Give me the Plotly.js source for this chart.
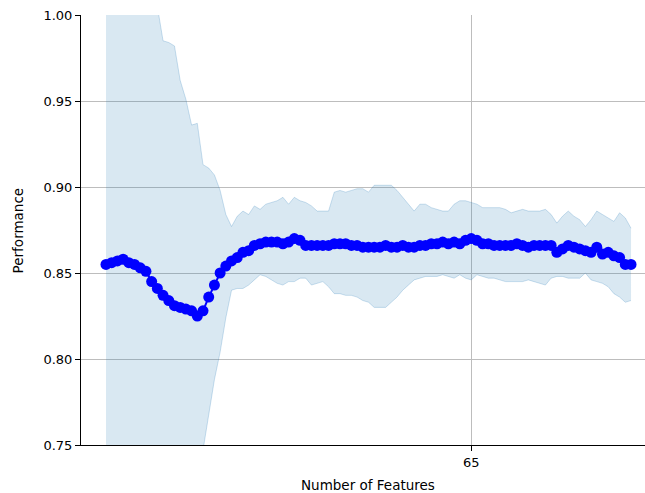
<!DOCTYPE html>
<html>
<head>
<meta charset="utf-8">
<script src="https://cdn.plot.ly/plotly-3.0.1.min.js"></script>
<style>html,body{margin:0;padding:0;background:#fff;}#chart{width:645px;height:493px;}</style>
</head>
<body>
<div id="chart"></div>
<script>
// Number of features (1..93)
const nFeatures = Array.from({length: 93}, (_, i) => i + 1);

// Average performance per number of features
const avgScore = [
  0.855, 0.856, 0.857, 0.858, 0.856, 0.855, 0.853, 0.851, 0.845, 0.841,
  0.837, 0.834, 0.831, 0.830, 0.829, 0.828, 0.825, 0.828, 0.836, 0.843,
  0.850, 0.854, 0.857, 0.859, 0.862, 0.863, 0.866, 0.867, 0.868, 0.868,
  0.868, 0.867, 0.868, 0.870, 0.869, 0.866, 0.866, 0.866, 0.866, 0.866,
  0.867, 0.867, 0.867, 0.866, 0.866, 0.865, 0.865, 0.865, 0.865, 0.866,
  0.865, 0.865, 0.866, 0.865, 0.865, 0.866, 0.866, 0.867, 0.867, 0.868,
  0.867, 0.868, 0.867, 0.869, 0.870, 0.869, 0.867, 0.867, 0.866, 0.866,
  0.866, 0.866, 0.867, 0.866, 0.865, 0.866, 0.866, 0.866, 0.866, 0.862,
  0.864, 0.866, 0.865, 0.864, 0.863, 0.862, 0.865, 0.861, 0.862, 0.860,
  0.859, 0.855, 0.855
];

// Upper bound of the band
const upperBound = [
  1.070, 1.080, 1.080, 1.080, 1.070, 1.060, 1.050, 1.040, 1.020, 1.005,
  0.985, 0.984, 0.982, 0.962, 0.951, 0.936, 0.937, 0.913, 0.911, 0.907,
  0.898, 0.884, 0.877, 0.883, 0.886, 0.884, 0.889, 0.887, 0.890, 0.891,
  0.892, 0.894, 0.890, 0.894, 0.892, 0.891, 0.889, 0.886, 0.886, 0.886,
  0.897, 0.898, 0.897, 0.898, 0.899, 0.899, 0.897, 0.901, 0.901, 0.901,
  0.901, 0.898, 0.894, 0.890, 0.886, 0.890, 0.890, 0.888, 0.887, 0.886,
  0.886, 0.890, 0.892, 0.892, 0.891, 0.890, 0.888, 0.888, 0.888, 0.888,
  0.887, 0.885, 0.886, 0.887, 0.886, 0.886, 0.886, 0.887, 0.884, 0.879,
  0.883, 0.886, 0.883, 0.881, 0.877, 0.881, 0.886, 0.884, 0.882, 0.880,
  0.885, 0.882, 0.876
];

// Lower bound of the band
const lowerBound = [
  0.640, 0.632, 0.634, 0.636, 0.642, 0.650, 0.656, 0.662, 0.670, 0.677,
  0.689, 0.684, 0.680, 0.698, 0.707, 0.720, 0.713, 0.747, 0.767, 0.788,
  0.804, 0.824, 0.840, 0.841, 0.841, 0.843, 0.846, 0.849, 0.848, 0.846,
  0.844, 0.843, 0.845, 0.845, 0.847, 0.847, 0.843, 0.844, 0.845, 0.842,
  0.838, 0.838, 0.837, 0.837, 0.836, 0.834, 0.833, 0.830, 0.830, 0.830,
  0.833, 0.836, 0.840, 0.843, 0.846, 0.847, 0.848, 0.848, 0.848, 0.849,
  0.848, 0.847, 0.849, 0.847, 0.846, 0.849, 0.848, 0.847, 0.847, 0.846,
  0.845, 0.845, 0.845, 0.845, 0.846, 0.845, 0.844, 0.843, 0.847, 0.848,
  0.848, 0.847, 0.847, 0.847, 0.850, 0.846, 0.845, 0.844, 0.842, 0.838,
  0.836, 0.833, 0.834
];

const xTicks = [65];
const yTicks = [0.75, 0.80, 0.85, 0.90, 0.95, 1.00];

const font = "DejaVu Sans, sans-serif";

const traces = [
  {
    x: nFeatures, y: upperBound, type: 'scatter', mode: 'lines',
    line: {color: 'rgba(31,119,180,0.22)', width: 1},
    hoverinfo: 'skip', showlegend: false
  },
  {
    x: nFeatures, y: lowerBound, type: 'scatter', mode: 'lines',
    fill: 'tonexty', fillcolor: 'rgba(31,119,180,0.17)',
    line: {color: 'rgba(31,119,180,0.22)', width: 1},
    hoverinfo: 'skip', showlegend: false
  },
  {
    x: nFeatures, y: avgScore, type: 'scatter', mode: 'lines+markers',
    line: {color: '#0000ff', width: 2},
    marker: {color: '#0000ff', size: 11},
    showlegend: false
  }
];

const layout = {
  width: 645, height: 493,
  margin: {l: 81, r: 0, t: 15, b: 48, pad: 0},
  paper_bgcolor: '#ffffff', plot_bgcolor: '#ffffff',
  font: {family: font, size: 13, color: '#000'},
  showlegend: false,
  xaxis: {
    range: [-3.38, 95.45],
    tickmode: 'array', tickvals: xTicks, ticktext: xTicks.map(String),
    showgrid: true, gridcolor: '#bdbdbd', gridwidth: 1,
    zeroline: false,
    showline: true, linecolor: '#000', linewidth: 1, mirror: false,
    ticks: 'outside', ticklen: 5, tickcolor: '#000', tickwidth: 1,
    tickfont: {family: font, size: 13, color: '#000'}
  },
  yaxis: {
    range: [0.75, 1.0],
    tickmode: 'array', tickvals: yTicks, ticktext: yTicks.map(v => v.toFixed(2)),
    showgrid: true, gridcolor: '#bdbdbd', gridwidth: 1,
    zeroline: false,
    showline: true, linecolor: '#000', linewidth: 1, mirror: false,
    ticks: 'outside', ticklen: 5, tickcolor: '#000', tickwidth: 1,
    tickfont: {family: font, size: 13, color: '#000'}
  },
  annotations: [
    {
      text: 'Number of Features', xref: 'paper', yref: 'paper',
      x: 0.509, y: -0.094, xanchor: 'center', yanchor: 'middle',
      showarrow: false, font: {family: font, size: 13.5, color: '#000'}
    },
    {
      text: 'Performance', xref: 'paper', yref: 'paper',
      x: -0.111, y: 0.5, xanchor: 'center', yanchor: 'middle', textangle: -90,
      showarrow: false, font: {family: font, size: 13.5, color: '#000'}
    }
  ]
};

Plotly.newPlot('chart', traces, layout, {displayModeBar: false, staticPlot: true});
</script>
</body>
</html>
